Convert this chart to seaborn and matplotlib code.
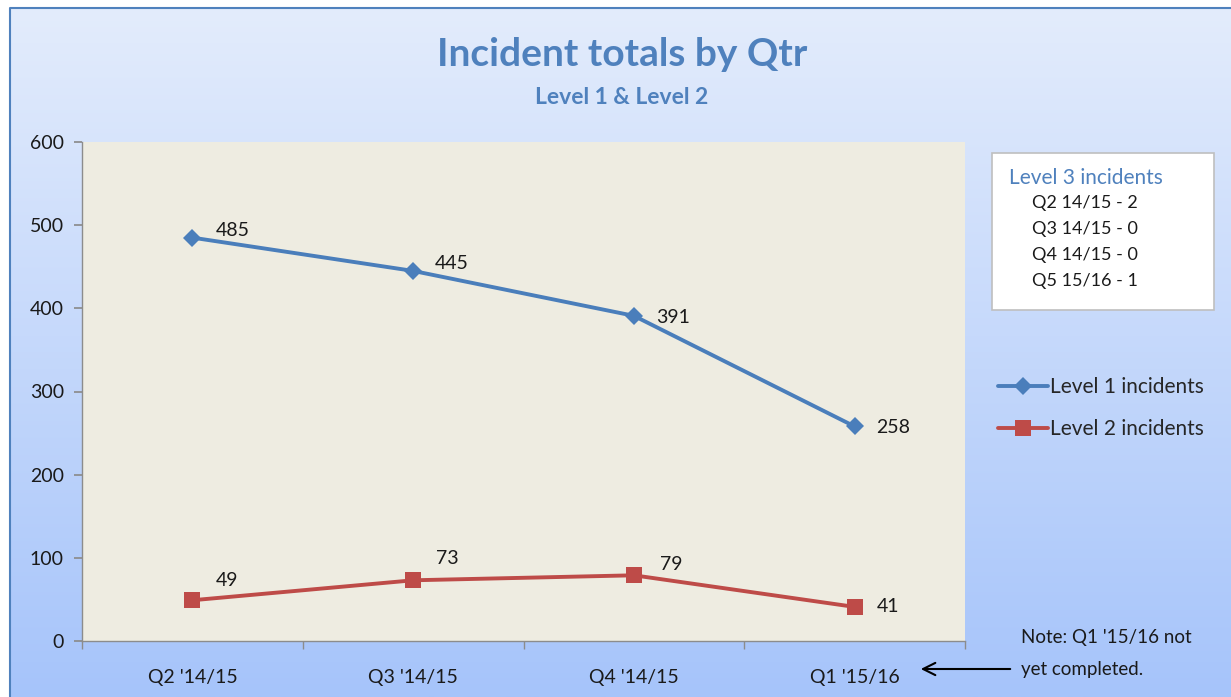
import numpy as np
import pandas as pd
import seaborn as sns
import matplotlib.pyplot as plt
from matplotlib.patches import Rectangle

# chart values
quarters = ["Q2 '14/15", "Q3 '14/15", "Q4 '14/15", "Q1 '15/16"]
level1 = [485, 445, 391, 258]
level2 = [49, 73, 79, 41]
level3_lines = ["Q2 14/15 - 2", "Q3 14/15 - 0", "Q4 14/15 - 0", "Q5 15/16 - 1"]
y_ticks = [0, 100, 200, 300, 400, 500, 600]

df = pd.DataFrame({
    'quarter': quarters * 2,
    'incidents': level1 + level2,
    'series': ['Level 1 incidents'] * 4 + ['Level 2 incidents'] * 4,
})

sns.set_theme(style="white")
plt.rcParams['font.family'] = ['Lato', 'DejaVu Sans']

W, H = 1231, 697
fig = plt.figure(figsize=(W / 100, H / 100), dpi=100)
fig.patch.set_facecolor('white')

# gradient background with a blue frame line
bg = fig.add_axes([0, 0, 1, 1], zorder=-10)
bg.set_xlim(0, W)
bg.set_ylim(H, 0)
bg.axis('off')
top = np.array([227, 236, 252]) / 255
bot = np.array([166, 196, 250]) / 255
t = np.linspace(0, 1, 256)[:, None, None]
grad = top * (1 - t) + bot * t
bg.imshow(grad, extent=[10, W, H, 8], aspect='auto')
bg.plot([10, 10, W], [H, 8, 8], color='#4f81bd', lw=1.5)

ax = fig.add_axes([82 / W, 1 - 641 / H, (965 - 82) / W, (641 - 142) / H])
ax.set_facecolor('#eeece1')

palette = {'Level 1 incidents': '#4a7ebb', 'Level 2 incidents': '#be4b48'}
markers = {'Level 1 incidents': 'D', 'Level 2 incidents': 's'}
sns.lineplot(data=df, x='quarter', y='incidents', hue='series', style='series',
             palette=palette, markers=markers, dashes=False, lw=2.8,
             markersize=11, markeredgewidth=0, ax=ax)
for line in ax.lines:
    if line.get_marker() == 'D':
        line.set_markersize(9)

ax.set_xlim(-0.5, 3.5)
ax.set_ylim(0, 600)
ax.set_yticks(y_ticks)
ax.set_xlabel('')
ax.set_ylabel('')
for s in ['top', 'right']:
    ax.spines[s].set_visible(False)
for s in ['left', 'bottom']:
    ax.spines[s].set_color('#8c8c8c')
    ax.spines[s].set_linewidth(1)
ax.tick_params(axis='y', left=True, length=6, color='#8c8c8c', labelsize=14,
               labelcolor='#1a1a1a', pad=7)
ax.tick_params(axis='x', bottom=False, labelsize=14, labelcolor='#1a1a1a', pad=14)
ax.set_xticks(np.arange(-0.5, 4, 1), minor=True)
ax.tick_params(axis='x', which='minor', bottom=True, length=6, color='#8c8c8c')

# data labels
offs1 = [(40, 7), (39, 7), (39, -2), (39, -1)]
offs2 = [(35, 20), (34, 22), (37, 11), (33, 0)]
for i, (v, o) in enumerate(zip(level1, offs1)):
    ax.annotate(str(v), (i, v), xytext=o, textcoords='offset pixels',
                ha='center', va='center', fontsize=14, color='#1a1a1a')
for i, (v, o) in enumerate(zip(level2, offs2)):
    ax.annotate(str(v), (i, v), xytext=o, textcoords='offset pixels',
                ha='center', va='center', fontsize=14, color='#1a1a1a')

# legend
handles, labels = ax.get_legend_handles_labels()
ax.legend(handles, labels, loc='center left', bbox_to_anchor=(979 / W, 1 - 408 / H),
          bbox_transform=fig.transFigure, frameon=False, fontsize=15,
          handlelength=2.4, handletextpad=0.1, labelspacing=1.05)

# titles
fig.text(622 / W, 1 - 55 / H, 'Incident totals by Qtr', ha='center', va='center',
         fontsize=28, fontweight='bold', color='#4f81bd')
fig.text(622 / W, 1 - 97 / H, 'Level 1 & Level 2', ha='center', va='center',
         fontsize=16.5, fontweight='bold', color='#4f81bd')

# Level 3 box
bg.add_patch(Rectangle((992, 153), 222, 157, facecolor='white',
                       edgecolor='#bfbfbf', lw=1.2, zorder=5))
bg.text(1009, 178, 'Level 3 incidents', fontsize=15, color='#4f81bd',
        va='center', zorder=6)
for k, txt in enumerate(level3_lines):
    bg.text(1032, 203 + 26 * k, txt, fontsize=13, color='#1a1a1a',
            va='center', zorder=6)

# note with arrow
bg.text(1021, 637, "Note: Q1 '15/16 not", fontsize=13.5, color='#1a1a1a', va='center')
bg.text(1021, 669, 'yet completed.', fontsize=13.5, color='#1a1a1a', va='center')
bg.annotate('', xy=(918, 669), xytext=(1013, 669),
            arrowprops=dict(arrowstyle='->', color='black', lw=1.5,
                            mutation_scale=22))

fig.savefig('out.png', dpi=100)
